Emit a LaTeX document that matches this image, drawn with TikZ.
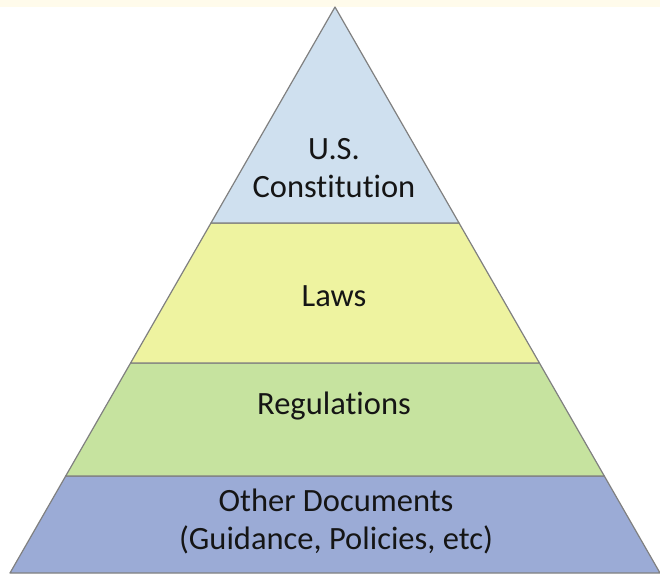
\documentclass[tikz,border=0pt]{standalone}
\usepackage{fontspec}
\setmainfont[Ligatures=NoCommon]{Carlito}
\usetikzlibrary{calc}
\definecolor{cream}{HTML}{FFFBEB}
\definecolor{bandA}{HTML}{CFE0EF}
\definecolor{bandB}{HTML}{EEF3A0}
\definecolor{bandC}{HTML}{C6E39F}
\definecolor{bandD}{HTML}{9BABD6}
\definecolor{edgegray}{HTML}{808080}
\definecolor{txt}{HTML}{151515}
\tikzset{
  band/.style={draw=edgegray, line width=1.2pt, line join=round},
  label/.style={text=txt, align=center, inner sep=0pt,
    font=\fontsize{32.5}{38}\selectfont}
}
\begin{document}
\begin{tikzpicture}[x=1pt,y=-1pt]
\useasboundingbox (0,0) rectangle (660,574);
\fill[white] (0,0) rectangle (660,574);
\fill[cream] (0,0) rectangle (660,7);
\coordinate (A) at (335,7);
\coordinate (L) at (10,573);
\coordinate (R) at (660,573);
\coordinate (L1) at ($(A)!0.3816!(L)$);
\coordinate (R1) at ($(A)!0.3816!(R)$);
\coordinate (L2) at ($(A)!0.629!(L)$);
\coordinate (R2) at ($(A)!0.629!(R)$);
\coordinate (L3) at ($(A)!0.8286!(L)$);
\coordinate (R3) at ($(A)!0.8286!(R)$);
\draw[band, fill=bandD] (L3) -- (R3) -- (R) -- (L) -- cycle;
\draw[band, fill=bandC] (L2) -- (R2) -- (R3) -- (L3) -- cycle;
\draw[band, fill=bandB] (L1) -- (R1) -- (R2) -- (L2) -- cycle;
\draw[band, fill=bandA] (A) -- (R1) -- (L1) -- cycle;
\node[label] (const) at (334,168) {U.S.\\Constitution};
\node[label] (laws) at (334,296) {Laws};
\node[label] (regs) at (334,406) {Regulations};
\node[label] (other) at (336,521) {Other Documents\\(Guidance, Policies, etc)};
\end{tikzpicture}
\end{document}
